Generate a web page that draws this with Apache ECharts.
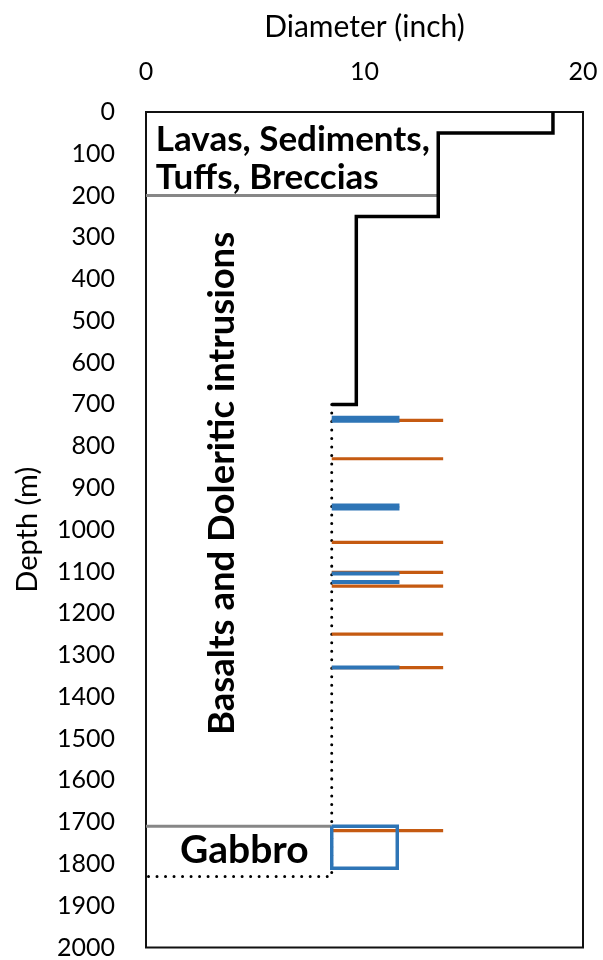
<!DOCTYPE html>
<html>
<head>
<meta charset="utf-8">
<script src="https://cdn.jsdelivr.net/npm/echarts@6/dist/echarts.min.js"></script>
<style>
  html, body { margin: 0; padding: 0; background: #fff; }
  #chart { width: 603px; height: 960px; }
</style>
</head>
<body>
<div id="chart"></div>
<script>
// Well design: casing strings, open hole and logged intervals vs depth
const casingDiameters = [18.625, 13.375, 9.625];   // inch
const casingShoeDepths = [50, 250, 700];           // m
const openHoleDiameter = 8.5;                       // inch
const openHoleBottom = 1830;                        // m
const formationBoundaryDepths = [200, 1710];        // m
const formationBoundaryDiameters = [13.375, 8.5];   // hole wall at the boundary
const orangeDepths = [738, 830, 1030, 1102, 1135, 1250, 1330, 1720];
const orangeDiameter = 13.6;
const blueDepths = [732, 739, 942, 949, 1105, 1125, 1330];
const blueDiameter = 11.6;
const blueBlock = { top: 1710, bottom: 1810, diameter: 11.5 };
const formationNames = ['Lavas, Sediments,\nTuffs, Breccias', 'Basalts and Doleritic intrusions', 'Gabbro'];

const FONT = 'Lato';
const BLUE = '#2E75B6';
const ORANGE = '#C55A11';
const GREY = '#878787';

function seg(points, color, width, extra) {
  return {
    type: 'line',
    data: points,
    symbol: 'none',
    silent: true,
    animation: false,
    lineStyle: Object.assign({ color: color, width: width, cap: 'butt', join: 'miter' }, extra || {})
  };
}

const series = [];

// formation boundaries
formationBoundaryDepths.forEach((d, i) => {
  series.push(seg([[0, d], [formationBoundaryDiameters[i], d]], GREY, 3));
});

// casing program as a stepped outline
const casingPath = [];
let stringTop = 0;
casingDiameters.forEach((dia, i) => {
  casingPath.push([dia, stringTop]);
  casingPath.push([dia, casingShoeDepths[i]]);
  stringTop = casingShoeDepths[i];
});
casingPath.push([openHoleDiameter, stringTop]);
series.push(seg(casingPath, '#000', 3.5));

// open hole (dotted)
const holeTop = casingShoeDepths[casingShoeDepths.length - 1];
series.push(seg([[openHoleDiameter, holeTop], [openHoleDiameter, openHoleBottom], [0, openHoleBottom]],
  '#000', 3, { type: [0.01, 8.5], cap: 'round' }));

// orange intervals
orangeDepths.forEach(d => {
  series.push(seg([[openHoleDiameter, d], [orangeDiameter, d]], ORANGE, 3.2));
});

// blue intervals
blueDepths.forEach(d => {
  series.push(seg([[openHoleDiameter, d], [blueDiameter, d]], BLUE, 4));
});

// blue block
series.push(seg([
  [openHoleDiameter, blueBlock.top], [blueBlock.diameter, blueBlock.top],
  [blueBlock.diameter, blueBlock.bottom], [openHoleDiameter, blueBlock.bottom],
  [openHoleDiameter, blueBlock.top]
], BLUE, 3.5));

const chart = echarts.init(document.getElementById('chart'), null, { renderer: 'canvas' });

chart.setOption({
  backgroundColor: '#fff',
  animation: false,
  grid: {
    left: 146, top: 112, width: 437, height: 837,
    show: true, borderColor: '#111', borderWidth: 2, backgroundColor: 'transparent'
  },
  xAxis: {
    type: 'value', position: 'top', min: 0, max: 20, interval: 10,
    name: 'Diameter (inch)', nameLocation: 'middle', nameGap: 70,
    nameTextStyle: { fontFamily: FONT, fontSize: 30, color: '#000' },
    axisLine: { show: false }, axisTick: { show: false }, splitLine: { show: false },
    axisLabel: { fontFamily: FONT, fontSize: 25, color: '#000', margin: 28 }
  },
  yAxis: {
    type: 'value', inverse: true, min: 0, max: 2000, interval: 100,
    name: 'Depth (m)', nameLocation: 'middle', nameGap: 104, nameRotate: 90,
    nameTextStyle: { fontFamily: FONT, fontSize: 29, color: '#000' },
    axisLine: { show: false }, axisTick: { show: false }, splitLine: { show: false },
    axisLabel: { fontFamily: FONT, fontSize: 25, color: '#000', margin: 31,
      formatter: v => String(v) }
  },
  series: series
});

// formation labels anchored in data coordinates
function px(x, y) { return chart.convertToPixel({ gridIndex: 0 }, [x, y]); }
const p1 = px(0.45, 112);
const p2 = px(3.5, 889);
const p3 = px(4.5, 1768);
const bold = { fontFamily: FONT, fontWeight: 'bold', fill: '#000' };
chart.setOption({
  graphic: [
    { type: 'text', x: p1[0], y: p1[1], z: 10,
      style: Object.assign({ text: formationNames[0], fontSize: 35, lineHeight: 38,
        textAlign: 'left', textVerticalAlign: 'middle' }, bold) },
    { type: 'text', x: p2[0], y: p2[1], rotation: Math.PI / 2, z: 10,
      style: Object.assign({ text: formationNames[1], fontSize: 36.5,
        textAlign: 'center', textVerticalAlign: 'middle' }, bold) },
    { type: 'text', x: p3[0], y: p3[1], z: 10,
      style: Object.assign({ text: formationNames[2], fontSize: 39,
        textAlign: 'center', textVerticalAlign: 'middle' }, bold) }
  ]
});
</script>
</body>
</html>
